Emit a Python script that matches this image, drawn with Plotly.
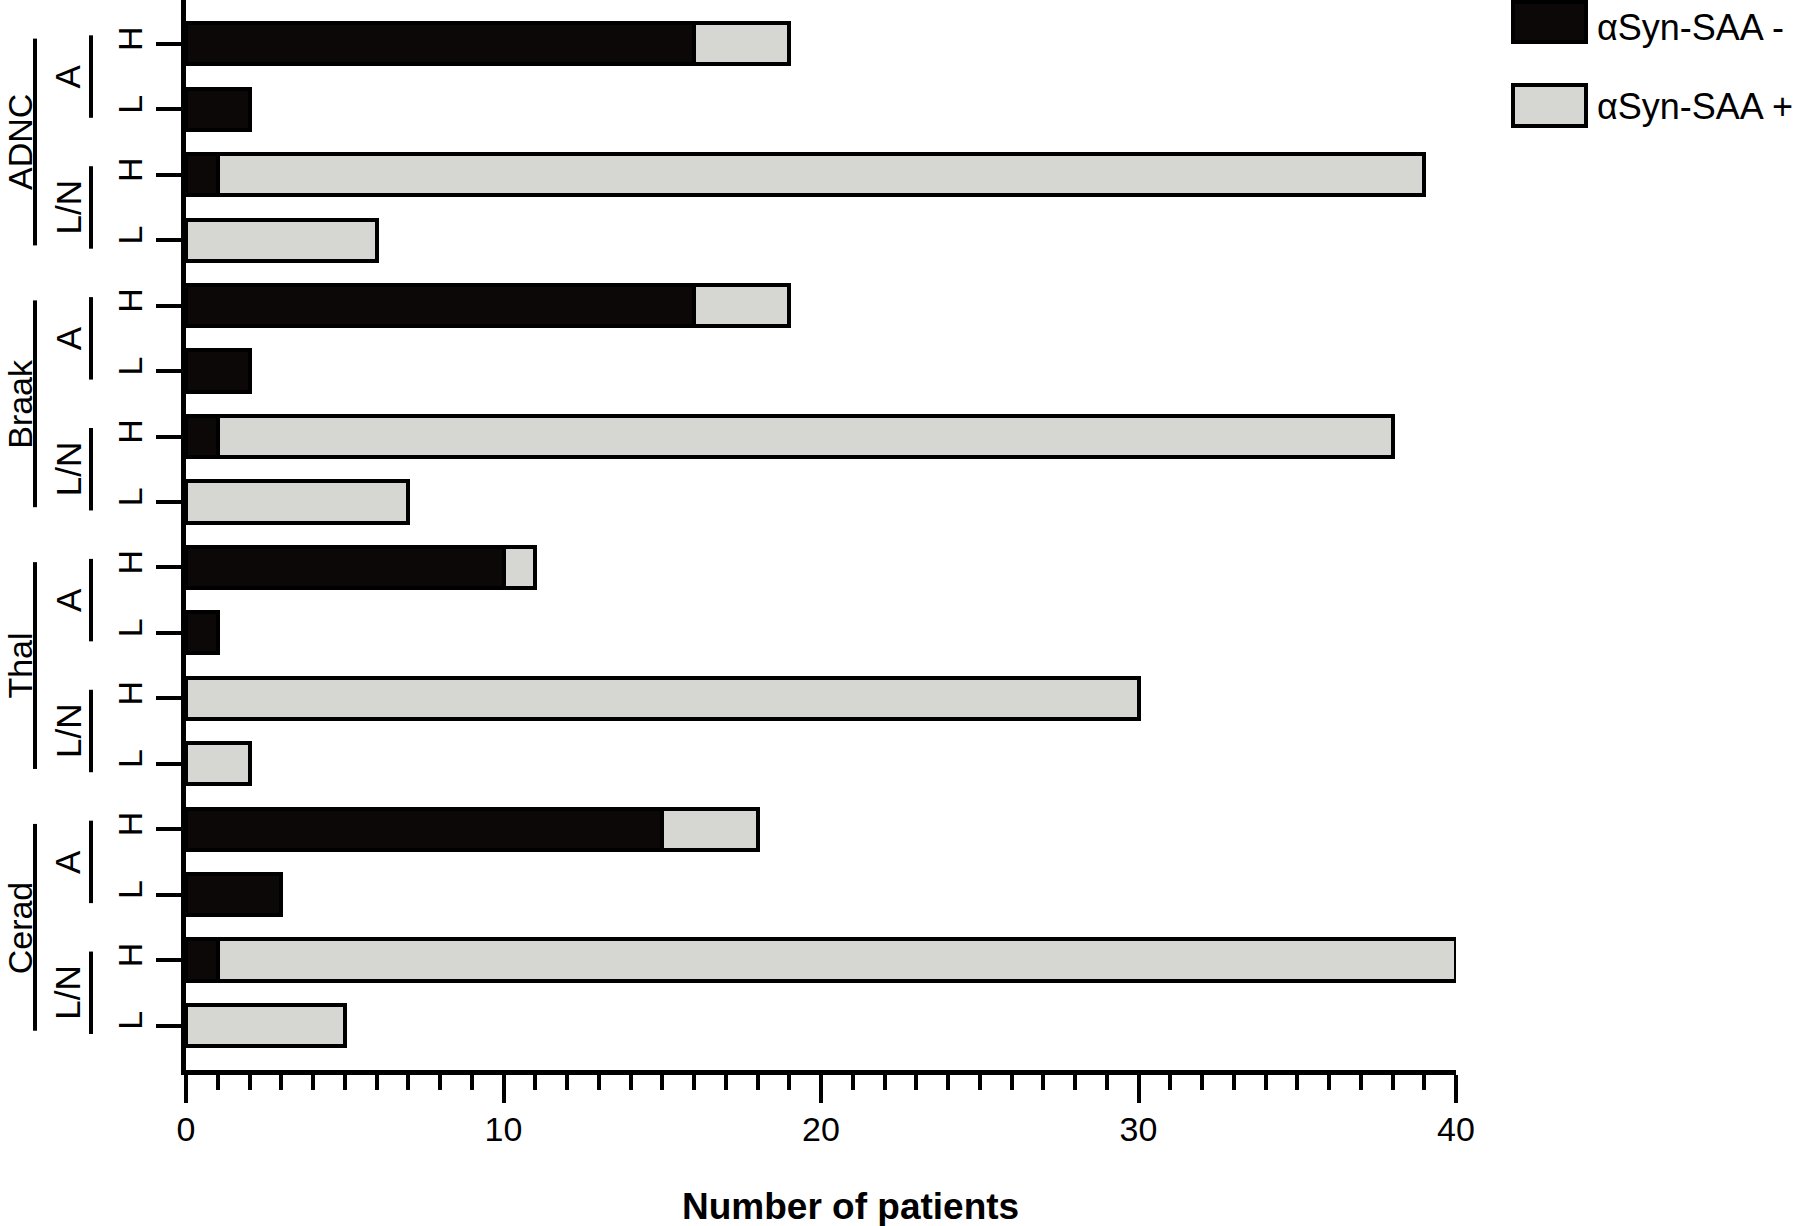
"""Stacked horizontal bars: aSyn-SAA result by neuropathology score."""

import plotly.graph_objects as go

# data, top to bottom
groups = ["ADNC", "Braak", "Thal", "Cerad"]
subgroups = ["A", "L/N"]
levels = ["H", "L"]
saa_negative = [16, 2, 1, 0, 16, 2, 1, 0, 10, 1, 0, 0, 15, 3, 1, 0]
saa_positive = [3, 0, 38, 6, 3, 0, 37, 7, 1, 0, 30, 2, 3, 0, 39, 5]
series_names = ["αSyn-SAA -", "αSyn-SAA +"]
series_colors = ["#0c0808", "#d6d6d3"]

rows = list(range(len(saa_negative)))
row_labels = [levels[i % 2] for i in rows]

FONT = "Liberation Sans, Arial, Helvetica, sans-serif"
W, H = 1800, 1226
L_PX, R_PX, T_PX, B_PX = 186, 1456, 0, 1070


def px_x(px: float) -> float:
    """Pixel -> paper x."""
    return (px - L_PX) / (R_PX - L_PX)


def px_y(py: float) -> float:
    """Pixel -> paper y."""
    return 1 - (py - T_PX) / (B_PX - T_PX)


def _clean(values):
    return [v if v else None for v in values]


fig = go.Figure()
for name, values, color in zip(series_names, [saa_negative, saa_positive], series_colors):
    fig.add_trace(
        go.Bar(
            y=rows,
            x=_clean(values),
            name=name,
            orientation="h",
            width=0.63,
            marker={"color": color, "line": {"color": "black", "width": 4}},
            showlegend=False,
        )
    )

shapes = []
annotations = []
for g, group in enumerate(groups):
    center = 4 * g + 1.5
    shapes.append(
        dict(type="line", xref="paper", yref="y", x0=px_x(35), x1=px_x(35),
             y0=center - 1.58, y1=center + 1.58, line={"color": "black", "width": 4})
    )
    annotations.append(
        dict(text=group, xref="paper", yref="y", x=px_x(0), y=center, textangle=-90,
             showarrow=False, xanchor="left", yanchor="middle", font={"size": 34},
             borderpad=0)
    )
    for s, sub in enumerate(subgroups):
        sub_center = 4 * g + 2 * s + 0.5
        shapes.append(
            dict(type="line", xref="paper", yref="y", x0=px_x(91), x1=px_x(91),
                 y0=sub_center - 0.63, y1=sub_center + 0.63, line={"color": "black", "width": 4})
        )
        annotations.append(
            dict(text=sub, xref="paper", yref="y", x=px_x(68), y=sub_center, textangle=-90,
                 showarrow=False, xanchor="center", yanchor="middle", font={"size": 35})
        )

# legend drawn by hand to get the large swatches
legend_rows = [(2, 42), (85, 126)]
legend_text_y = [28, 107]
for (top, bottom), text_y, name, color in zip(legend_rows, legend_text_y, series_names, series_colors):
    shapes.append(
        dict(type="rect", xref="paper", yref="paper", x0=px_x(1513), x1=px_x(1586),
             y0=px_y(bottom), y1=px_y(top), fillcolor=color,
             line={"color": "black", "width": 4})
    )
    annotations.append(
        dict(text=name, xref="paper", yref="paper", x=px_x(1595), y=px_y(text_y),
             showarrow=False, xanchor="left", yanchor="middle", font={"size": 36})
    )

annotations.append(
    dict(text="<b>Number of patients</b>", xref="paper", yref="paper", x=px_x(850), y=px_y(1206),
         showarrow=False, xanchor="center", yanchor="middle", font={"size": 37})
)

fig.update_layout(
    width=W,
    height=H,
    barmode="stack",
    bargap=0,
    plot_bgcolor="white",
    paper_bgcolor="white",
    font={"family": FONT, "size": 34, "color": "black"},
    margin={"l": L_PX, "r": W - R_PX, "t": T_PX, "b": H - B_PX, "autoexpand": False},
    shapes=shapes,
    annotations=annotations,
    xaxis={
        "range": [0, 40],
        "tick0": 0,
        "dtick": 10,
        "ticks": "outside",
        "ticklen": 28,
        "tickwidth": 4,
        "tickcolor": "black",
        "ticklabelstandoff": -3,
        "minor": {"dtick": 1, "ticks": "outside", "ticklen": 15, "tickwidth": 4, "tickcolor": "black"},
        "showline": True,
        "linewidth": 5,
        "linecolor": "black",
        "showgrid": False,
        "zeroline": False,
    },
    yaxis={
        "range": [15.68, -0.67],
        "tickmode": "array",
        "tickvals": rows,
        "ticktext": row_labels,
        "tickangle": -90,
        "ticks": "outside",
        "ticklen": 25,
        "tickwidth": 4,
        "tickcolor": "black",
        "ticklabelstandoff": 0,
        "showline": True,
        "linewidth": 5,
        "linecolor": "black",
        "showgrid": False,
        "zeroline": False,
    },
)

# drop the default page margin so the figure sits at the window's corner
fig.write_html(
    "out.html",
    config={"displayModeBar": False},
    post_script="document.body.style.margin = '0';",
)
